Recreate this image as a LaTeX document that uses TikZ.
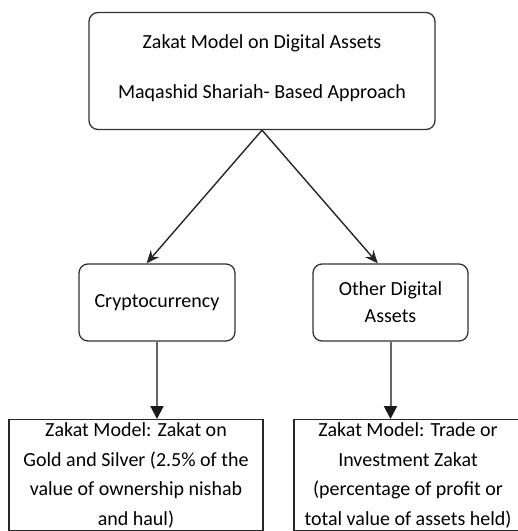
\documentclass[tikz,border=0pt]{standalone}
\usepackage{fontspec}
\setmainfont{Carlito}
\usetikzlibrary{arrows.meta}
\begin{document}
\begin{tikzpicture}[x=1pt,y=-1pt]
	\tikzset{boite/.style={draw=black!80, rounded corners=9pt, line width=1.3pt, align=center, font=\fontsize{20}{27}\selectfont},
	modele/.style={draw=black!85, line width=1.3pt, align=center, inner xsep=2pt, inner ysep=3pt, font=\fontsize{20}{29.5}\selectfont},
	fleche/.style={-{Stealth[length=13pt,width=11pt]}, line width=1.4pt, draw=black!85},
	descente/.style={-{Triangle[length=13pt,width=13pt,color=black!90]}, line width=2pt, draw=black!60}};

	\useasboundingbox (0,0) rectangle (518,531);

	\node[boite, minimum width=346pt, minimum height=117pt] (approche) at (262,71) {};
	\node[font=\fontsize{20}{50}\selectfont, align=center] (titre) at (262,68)
		{Zakat Model on Digital Assets\\Maqashid Shariah- Based Approach};

	\node[boite, minimum width=156pt, minimum height=77pt] (crypto) at (157,302.5) {Cryptocurrency};
	\node[boite, minimum width=155pt, minimum height=77pt] (autres) at (390.5,302.5) {Other Digital\\Assets};

	\node[modele, anchor=north, minimum width=254pt] (orargent) at (136,419)
		{Zakat Model: Zakat on\\Gold and Silver (2.5\% of the\\value of ownership nishab\\and haul)};
	\node[modele, anchor=north, minimum width=228pt] (commerce) at (408,419)
		{Zakat Model: Trade or\\Investment Zakat\\(percentage of profit or\\total value of assets held)};

	\draw[fleche] (approche.south) -- (crypto.105);
	\draw[fleche] (approche.south) -- (autres.108);

	\foreach \haut/\bas in {crypto/orargent, autres/commerce}{
		\draw[descente] (\haut.south) -- (\haut.south |- \bas.north);
	}
\end{tikzpicture}
\end{document}
